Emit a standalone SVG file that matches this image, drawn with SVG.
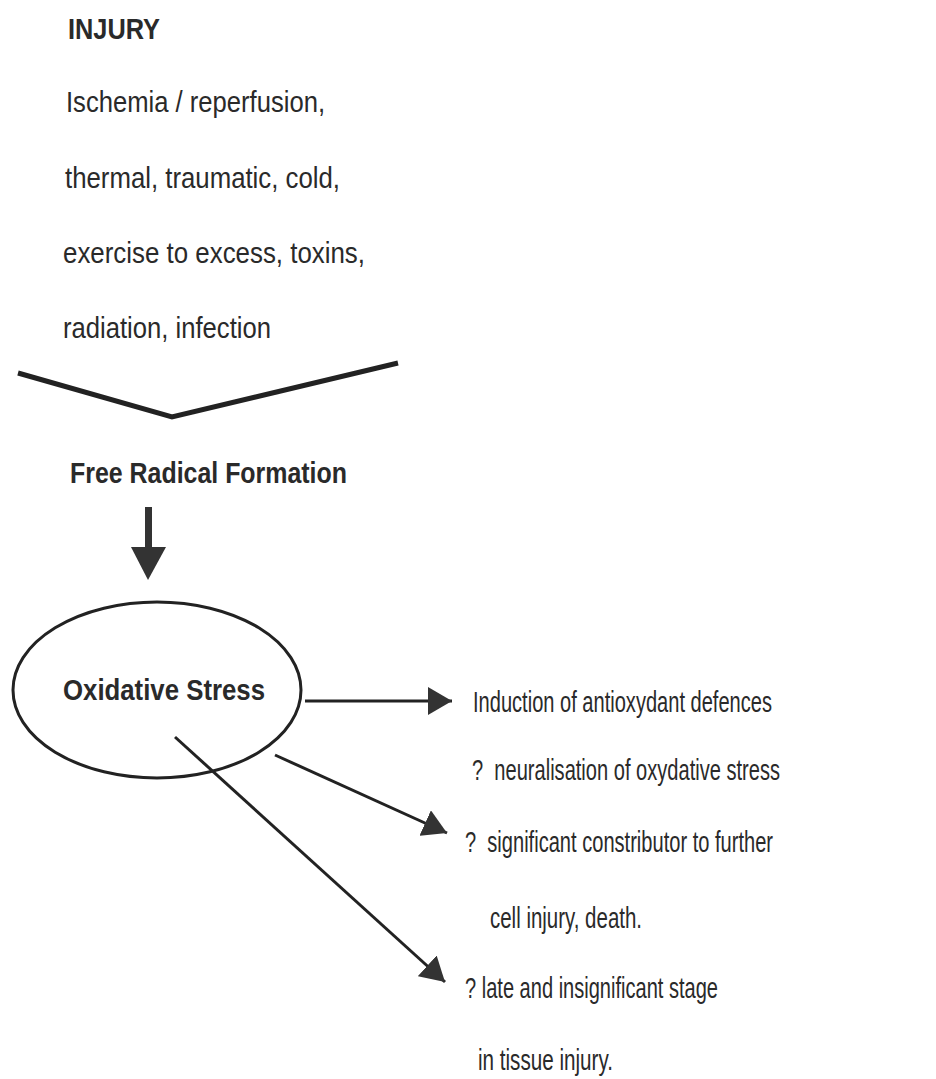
<svg xmlns="http://www.w3.org/2000/svg" width="936" height="1079" viewBox="0 0 936 1079">
<style>
text{font-family:"Liberation Sans",Arial,sans-serif;fill:#2a2a2a;font-size:29px}
.b{font-weight:bold}
.r{font-size:30px}
.ln{stroke:#222;stroke-width:3;fill:none}
</style>
<defs>
<marker id="ah" viewBox="0 0 24 28" refX="24" refY="14" markerWidth="24" markerHeight="28" markerUnits="userSpaceOnUse" orient="auto">
<path d="M0,0 L24,14 L0,28 Z" fill="#333"/>
</marker>
</defs>
<rect width="936" height="1079" fill="#fff"/>
<g id="injury">
<text class="b" x="68" y="39" textLength="92" lengthAdjust="spacingAndGlyphs">INJURY</text>
<text x="66" y="112" textLength="259" lengthAdjust="spacingAndGlyphs">Ischemia / reperfusion,</text>
<text x="65" y="188" textLength="275" lengthAdjust="spacingAndGlyphs">thermal, traumatic, cold,</text>
<text x="63" y="263" textLength="302" lengthAdjust="spacingAndGlyphs">exercise to excess, toxins,</text>
<text x="63" y="338" textLength="208" lengthAdjust="spacingAndGlyphs">radiation, infection</text>
</g>
<g id="chevron">
<polyline points="18,373 172,417 398,363" fill="none" stroke="#222" stroke-width="5" stroke-linejoin="miter"/>
</g>
<g id="free-radical">
<text class="b" x="70" y="483" textLength="277" lengthAdjust="spacingAndGlyphs">Free Radical Formation</text>
</g>
<g id="oxidative-stress">
<ellipse cx="157" cy="690" rx="144" ry="88" class="ln"/>
<text class="b" x="63" y="700" textLength="202" lengthAdjust="spacingAndGlyphs">Oxidative Stress</text>
</g>
<g id="outcome-1">
<text class="r" x="473" y="712" textLength="299" lengthAdjust="spacingAndGlyphs">Induction of antioxydant defences</text>
<text class="r" x="472" y="780" textLength="308" lengthAdjust="spacingAndGlyphs" style="white-space:pre">?  neuralisation of oxydative stress</text>
</g>
<g id="outcome-2">
<text class="r" x="465" y="852" textLength="308" lengthAdjust="spacingAndGlyphs" style="white-space:pre">?  significant constributor to further</text>
<text class="r" x="490" y="928" textLength="152" lengthAdjust="spacingAndGlyphs">cell injury, death.</text>
</g>
<g id="outcome-3">
<text class="r" x="465" y="998" textLength="253" lengthAdjust="spacingAndGlyphs">? late and insignificant stage</text>
<text class="r" x="478" y="1070" textLength="135" lengthAdjust="spacingAndGlyphs">in tissue injury.</text>
</g>
<g id="connectors">
<rect x="145" y="507" width="7" height="42" fill="#333"/>
<path d="M131,547 L166,547 L148,580 Z" fill="#333"/>
<line x1="305" y1="701" x2="452" y2="701" class="ln" marker-end="url(#ah)"/>
<line x1="275" y1="755" x2="447" y2="833" class="ln" marker-end="url(#ah)"/>
<line x1="175" y1="737" x2="445" y2="982" class="ln" marker-end="url(#ah)"/>
</g>
</svg>
